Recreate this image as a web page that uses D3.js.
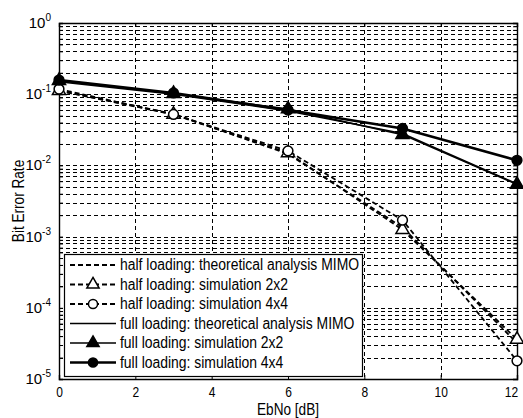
<!DOCTYPE html>
<html>
<head>
<meta charset="utf-8">
<script src="https://cdn.jsdelivr.net/npm/d3@7"></script>
<style>
  body { margin: 0; background: #fff; }
  svg text { font-family: "Liberation Sans", Arial, sans-serif; fill: #000; }
</style>
</head>
<body>
<svg id="chart" width="523" height="418"></svg>
<script>
// EbNo values (dB)
var ebno = [0, 3, 6, 9, 12];

// bit error rate
var halfTheory = [0.112, 0.053, 0.0145, 0.00135, 0.000032];
var half2x2    = [0.112, 0.052, 0.0150, 0.00125, 0.000036];
var half4x4    = [0.118, 0.052, 0.0160, 0.00170, 0.000018];
var fullTheory = [0.150, 0.100, 0.0580, 0.02800, 0.0055];
var full2x2    = [0.155, 0.102, 0.0620, 0.02700, 0.0054];
var full4x4    = [0.158, 0.104, 0.0600, 0.03300, 0.0118];

var xTicks = [0, 2, 4, 6, 8, 10, 12];
var yTicks = [1, 0.1, 0.01, 0.001, 0.0001, 0.00001];
var yExp = ['0', '-1', '-2', '-3', '-4', '-5'];

var legendLabels = [
  'half loading: theoretical analysis MIMO',
  'half loading: simulation 2x2',
  'half loading: simulation 4x4',
  'full loading: theoretical analysis MIMO',
  'full loading: simulation 2x2',
  'full loading: simulation 4x4'
];

var series = [
  {v: halfTheory, dash: '5,3', w: 1.8, mark: null},
  {v: half2x2, dash: '5,3', w: 1.8, mark: 'tri', fill: '#fff'},
  {v: half4x4, dash: '5,3', w: 1.8, mark: 'circ', fill: '#fff'},
  {v: fullTheory, dash: null, w: 1.5, mark: null},
  {v: full2x2, dash: null, w: 1.5, mark: 'tri', fill: '#000'},
  {v: full4x4, dash: null, w: 2.6, mark: 'circ', fill: '#000'}
];

var svg = d3.select('#chart');
var L = 59, R = 517, T = 23, B = 379;

var x = d3.scaleLinear().domain([0, 12]).range([L, R]);
var y = d3.scaleLog().domain([1e-5, 1]).range([B, T]);

// squeeze a text horizontally, like the narrow font of the original
function narrow(sel, k) {
  sel.each(function () {
    var len = this.getComputedTextLength();
    d3.select(this).attr('textLength', len * k).attr('lengthAdjust', 'spacingAndGlyphs');
  });
}

// grid
var minor = [];
for (var e = -5; e < 0; e++) {
  for (var m = 1; m < 10; m++) minor.push(m * Math.pow(10, e));
}
minor.push(1);

var grid = svg.append('g').attr('stroke', '#000').attr('stroke-width', 1).attr('stroke-dasharray', '4,3');
grid.selectAll('.hg').data(minor).join('line')
  .attr('x1', L).attr('x2', R)
  .attr('y1', d => Math.round(y(d)) + 0.5).attr('y2', d => Math.round(y(d)) + 0.5);
grid.selectAll('.vg').data(xTicks).join('line')
  .attr('y1', T).attr('y2', B)
  .attr('x1', d => Math.round(x(d)) + 0.5).attr('x2', d => Math.round(x(d)) + 0.5);

// axes
var xAxis = d3.axisBottom(x).tickValues(xTicks).tickSize(-4).tickPadding(7).tickFormat(d3.format('d'));
var gx = svg.append('g').attr('transform', 'translate(0,' + B + ')').call(xAxis);
gx.selectAll('text').style('font-size', '15px').call(narrow, 0.8);
gx.selectAll('text').filter(d => d === 12).attr('dx', -6);
svg.append('g').attr('transform', 'translate(0,' + T + ')')
  .call(d3.axisTop(x).tickValues(xTicks).tickSize(-4).tickFormat(''));

var yAxis = d3.axisLeft(y).tickValues(minor).tickSize(-4).tickFormat('');
svg.append('g').attr('transform', 'translate(' + L + ',0)').call(yAxis);
svg.append('g').attr('transform', 'translate(' + R + ',0)')
  .call(d3.axisRight(y).tickValues(minor).tickSize(-4).tickFormat(''));

svg.selectAll('.domain').attr('stroke-width', 1.4);
svg.selectAll('.tick line').attr('stroke-width', 1);

var ylab = svg.append('g');
yTicks.forEach(function (t, i) {
  var tx = ylab.append('text').attr('x', 51).attr('y', y(t) + 5).attr('text-anchor', 'end').style('font-size', '15px');
  tx.append('tspan').text('10');
  tx.append('tspan').attr('dy', -7).style('font-size', '10px').text(yExp[i]);
});

svg.append('text').attr('transform', 'translate(24,' + (T + B) / 2 + ') rotate(-90)')
  .attr('text-anchor', 'middle').style('font-size', '16px').text('Bit Error Rate').call(narrow, 0.85);
svg.append('text').attr('x', (L + R) / 2).attr('y', 415)
  .attr('text-anchor', 'middle').style('font-size', '16px').text('EbNo [dB]').call(narrow, 0.85);

// lines
var line = d3.line().x((d, i) => x(ebno[i])).y(d => y(d));
var sym = {tri: d3.symbolTriangle, circ: d3.symbolCircle};

function marker(g, s, cx, cy, size) {
  g.append('path')
    .attr('d', d3.symbol(sym[s.mark], size)())
    .attr('transform', 'translate(' + cx + ',' + cy + ')')
    .attr('fill', s.fill).attr('stroke', '#000').attr('stroke-width', 1.5);
}

var plot = svg.append('g');
series.forEach(function (s) {
  plot.append('path').datum(s.v).attr('d', line)
    .attr('fill', 'none').attr('stroke', '#000').attr('stroke-width', s.w)
    .attr('stroke-dasharray', s.dash);
});
series.forEach(function (s) {
  if (!s.mark) return;
  s.v.forEach(function (d, i) { marker(plot, s, x(ebno[i]), y(d), 75); });
});

// legend
var lg = svg.append('g');
lg.append('rect').attr('x', 64.5).attr('y', 254.5).attr('width', 298).attr('height', 122)
  .attr('fill', '#fff').attr('stroke', '#000').attr('stroke-width', 1.2);
legendLabels.forEach(function (lab, i) {
  var s = series[i];
  var ly = 265 + i * 19.5;
  lg.append('line').attr('x1', 70).attr('x2', 116).attr('y1', ly).attr('y2', ly)
    .attr('stroke', '#000').attr('stroke-width', s.w).attr('stroke-dasharray', s.dash);
  if (s.mark) marker(lg, s, 93, ly, 65);
  lg.append('text').attr('x', 120).attr('y', ly + 5).style('font-size', '16px').text(lab).call(narrow, 0.87);
});
</script>
</body>
</html>
